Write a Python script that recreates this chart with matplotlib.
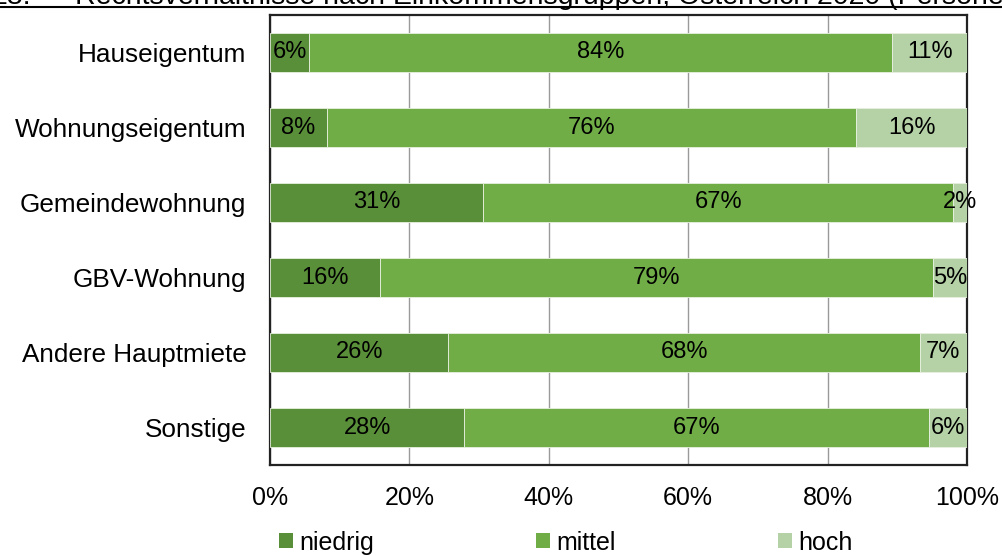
import matplotlib
matplotlib.use("Agg")
import matplotlib.pyplot as plt
from matplotlib.lines import Line2D
from matplotlib.patches import Patch
from matplotlib.ticker import PercentFormatter

plt.rcParams['font.family'] = ['Liberation Sans', 'DejaVu Sans']

categories = ["Hauseigentum", "Wohnungseigentum", "Gemeindewohnung",
              "GBV-Wohnung", "Andere Hauptmiete", "Sonstige"]
niedrig = [5.6, 8.2, 30.6, 15.8, 25.6, 27.9]
mittel = [83.6, 75.9, 67.4, 79.3, 67.6, 66.6]
hoch = [10.9, 15.9, 2.0, 4.9, 6.8, 5.6]
series_names = ["niedrig", "mittel", "hoch"]
colors = ["#5A8F3A", "#70AD47", "#B5D2A6"]
xticks = [0, 20, 40, 60, 80, 100]

W, H = 1003, 556
fig = plt.figure(figsize=(W / 100, H / 100), dpi=100)
ax = fig.add_axes([270 / W, 91 / H, 697 / W, 450 / H])

y = list(range(len(categories)))
left = [0.0] * len(categories)
for vals, col in zip([niedrig, mittel, hoch], colors):
    ax.barh(y, vals, left=left, height=0.53, color=col,
            edgecolor="#E8F0E0", linewidth=0.6, zorder=3)
    for yi, v, l in zip(y, vals, left):
        ax.text(l + v / 2, yi, f"{v:.0f}%", ha="center", va="center",
                fontsize=17, color="black", zorder=4)
    left = [a + b for a, b in zip(left, vals)]

ax.set_ylim(len(categories) - 0.5, -0.5)
ax.set_xlim(0, 100)
ax.set_yticks(y)
ax.set_yticklabels(categories, fontsize=18.8)
ax.set_xticks(xticks)
ax.xaxis.set_major_formatter(PercentFormatter(decimals=0))
ax.tick_params(axis="x", length=0, pad=15, labelsize=18)
ax.tick_params(axis="y", length=0, pad=17)
ax.grid(axis="x", color="#9A9A9A", linewidth=1, zorder=0)
for s in ax.spines.values():
    s.set_color("#222222")
    s.set_linewidth(1.6)

handles = [Patch(facecolor=c, edgecolor="none") for c in colors]
fig.legend(handles, series_names, loc="center", ncol=3,
           bbox_to_anchor=(0.564, 0.024), frameon=False, fontsize=18,
           handlelength=0.56, handleheight=0.56, handletextpad=0.24,
           columnspacing=6.5, borderaxespad=0)

# title, mostly cut off at the top edge like in the source
fig.text(-8 / W, 1 - 4.5 / H, "28:", fontsize=20.5, va="baseline", ha="left")
fig.text(75 / W, 1 - 4.5 / H,
         "Rechtsverhältnisse nach Einkommensgruppen, Österreich 2020 (Personen)",
         fontsize=20.5, va="baseline", ha="left")
fig.add_artist(Line2D([0, 1], [1 - 7 / H, 1 - 7 / H], transform=fig.transFigure,
                      color="black", linewidth=1.5))

fig.savefig("out.png", dpi=100)
